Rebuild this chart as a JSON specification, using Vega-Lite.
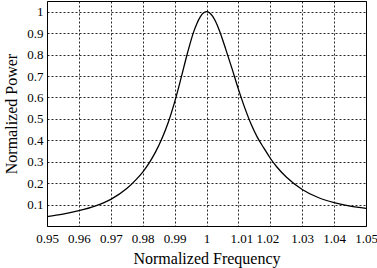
{
  "$schema": "https://vega.github.io/schema/vega-lite/v6.json",
  "width": 319,
  "height": 225,
  "autosize": {"type": "none"},
  "padding": {"left": 47, "top": 1, "right": 11, "bottom": 42},
  "background": "white",
  "config": {
    "font": "Liberation Serif",
    "view": {"stroke": "black", "strokeWidth": 1},
    "axis": {
      "labelFont": "Liberation Serif",
      "titleFont": "Liberation Serif",
      "labelColor": "black",
      "titleColor": "black",
      "labelFontSize": 13,
      "titleFontSize": 16,
      "titleFontWeight": "normal",
      "domain": false,
      "tickColor": "black",
      "tickSize": 0,
      "grid": true,
      "gridColor": "black",
      "gridDash": [2, 2],
      "gridOpacity": 0.85,
      "gridWidth": 1
    }
  },
  "data": {
    "values": [
      {"f": 0.950, "p": 0.0438},
      {"f": 0.955, "p": 0.0554},
      {"f": 0.960, "p": 0.0715},
      {"f": 0.965, "p": 0.0929},
      {"f": 0.970, "p": 0.1243},
      {"f": 0.975, "p": 0.1746},
      {"f": 0.978, "p": 0.2175},
      {"f": 0.980, "p": 0.2517},
      {"f": 0.982, "p": 0.2934},
      {"f": 0.984, "p": 0.3446},
      {"f": 0.986, "p": 0.4070},
      {"f": 0.988, "p": 0.4830},
      {"f": 0.990, "p": 0.5779},
      {"f": 0.992, "p": 0.6887},
      {"f": 0.994, "p": 0.8052},
      {"f": 0.996, "p": 0.9071},
      {"f": 0.997, "p": 0.9455},
      {"f": 0.998, "p": 0.9750},
      {"f": 0.999, "p": 0.9936},
      {"f": 1.000, "p": 1.0},
      {"f": 1.001, "p": 0.9941},
      {"f": 1.002, "p": 0.9769},
      {"f": 1.003, "p": 0.9494},
      {"f": 1.004, "p": 0.9135},
      {"f": 1.006, "p": 0.8266},
      {"f": 1.008, "p": 0.7343},
      {"f": 1.010, "p": 0.6389},
      {"f": 1.012, "p": 0.5512},
      {"f": 1.014, "p": 0.4744},
      {"f": 1.016, "p": 0.4122},
      {"f": 1.018, "p": 0.3634},
      {"f": 1.020, "p": 0.3162},
      {"f": 1.022, "p": 0.2765},
      {"f": 1.025, "p": 0.2284},
      {"f": 1.030, "p": 0.1705},
      {"f": 1.035, "p": 0.1329},
      {"f": 1.040, "p": 0.1091},
      {"f": 1.045, "p": 0.0929},
      {"f": 1.050, "p": 0.0826}
    ]
  },
  "mark": {"type": "line", "color": "black", "strokeWidth": 1.3, "interpolate": "monotone", "clip": true},
  "encoding": {
    "x": {
      "field": "f",
      "type": "quantitative",
      "scale": {"domain": [0.95, 1.05], "nice": false, "zero": false},
      "axis": {
        "title": "Normalized Frequency",
        "values": [0.95, 0.96, 0.97, 0.98, 0.99, 1, 1.01, 1.02, 1.03, 1.04, 1.05],
        "format": "~g",
        "labelPadding": 6,
        "titlePadding": 5,
        "labelFlush": false,
        "labelOverlap": false,
        "labelOffset": {"expr": "datum.value > 1.005 && datum.value < 1.015 ? 3 : (datum.value > 1.015 && datum.value < 1.025 ? -3 : 0)"}
      }
    },
    "y": {
      "field": "p",
      "type": "quantitative",
      "scale": {"domain": [0, 1.05], "nice": false},
      "axis": {
        "title": "Normalized Power",
        "values": [0.1, 0.2, 0.3, 0.4, 0.5, 0.6, 0.7, 0.8, 0.9, 1],
        "format": "~g",
        "labelPadding": 4,
        "titlePadding": 7,
        "labelFlush": false,
        "labelOverlap": false
      }
    }
  }
}
